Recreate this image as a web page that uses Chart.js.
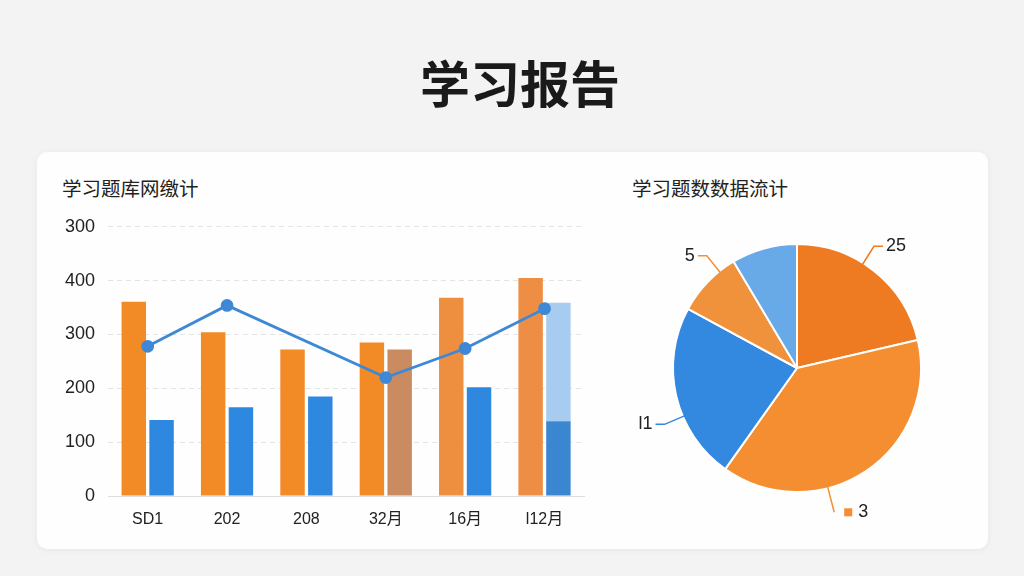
<!DOCTYPE html>
<html>
<head>
<meta charset="utf-8">
<script src="https://cdn.jsdelivr.net/npm/chart.js@4.4.1/dist/chart.umd.min.js"></script>
<style>
  html, body { margin: 0; padding: 0; }
  body { width: 1024px; height: 576px; background: #f3f3f3; position: relative; overflow: hidden;
         font-family: "Liberation Sans", "Noto Sans CJK SC", sans-serif; }
  #title { position: absolute; left: 8px; width: 1024px; top: 51px; text-align: center;
           font-family: "Noto Sans CJK SC", sans-serif; font-weight: 700; font-size: 50px; color: #1a1a1a; line-height: 60px; }
  #card { position: absolute; left: 37px; top: 152px; width: 951px; height: 397px; background: #fefefe;
          border-radius: 10px; box-shadow: 0 1px 6px rgba(0,0,0,0.06); }
  .sub { position: absolute; font-family: "Noto Sans CJK SC", sans-serif; font-size: 19.5px; color: #222; line-height: 24px; }
  #barWrap { position: absolute; left: 50px; top: 203px; width: 542px; height: 333px; }
  #pieWrap { position: absolute; left: 617px; top: 218px; width: 360px; height: 300px; }
</style>
</head>
<body>
<div id="title">学习报告</div>
<div id="card"></div>
<div class="sub" style="left:62px; top:176px;">学习题库网缴计</div>
<div class="sub" style="left:632px; top:176px;">学习题数数据流计</div>
<div id="barWrap"><canvas id="bar"></canvas></div>
<div id="pieWrap"><canvas id="pie"></canvas></div>
<script>
// ---- data ----
const categories = ['SD1', '202', '208', '32月', '16月', 'l12月'];
const yTickLabels = ['0', '100', '200', '300', '400', '300'];
const seriesOrange = [361, 304, 272, 285, 368, 405];
const seriesBlue = [141, 165, 185, 272, 202, 139];
const seriesBlueExtra = [0, 0, 0, 0, 0, 220];
const seriesLine = [278, 354, null, 220, 274, 348];

const pieValues = [25, 45, 27, 10, 10];
const pieLabels = ['25', '3', 'l1', '5', ''];

// ---- styles ----
const orangeColors = ['#f28a26', '#f28a26', '#f28a26', '#f28a26', '#ee8f3f', '#ee8e45'];
const blueColors = ['#2f88e0', '#2f88e0', '#2f88e0', '#c98b5f', '#2f88e0', '#3b86d0'];
const blueExtraColors = ['#a7ccf0', '#a7ccf0', '#a7ccf0', '#a7ccf0', '#a7ccf0', '#a7ccf0'];
const pieColors = ['#ee7a22', '#f48e31', '#3388e0', '#f0913c', '#68a9e8'];
const labelAnchor = [0.42, 0.64, 0.38, 0.74, 0.5];   // where along each slice its leader leaves
const labelMarker = [false, true, false, false, false];
const FONT = '"Liberation Sans", "Noto Sans CJK SC", sans-serif';

new Chart(document.getElementById('bar'), {
  data: {
    labels: categories,
    datasets: [
      { type: 'line', data: seriesLine, borderColor: '#3e88d6', backgroundColor: '#3e88d6',
        borderWidth: 2.8, pointRadius: 5, pointHoverRadius: 5, tension: 0, spanGaps: true, order: 0 },
      { type: 'bar', data: seriesOrange, backgroundColor: orangeColors, stack: 'a', order: 1 },
      { type: 'bar', data: seriesBlue, backgroundColor: blueColors, stack: 'b', order: 1 },
      { type: 'bar', data: seriesBlueExtra, backgroundColor: blueExtraColors, stack: 'b', order: 1 }
    ]
  },
  options: {
    responsive: true, maintainAspectRatio: false, animation: false,
    layout: { padding: 0 },
    datasets: { bar: { categoryPercentage: 0.7, barPercentage: 0.88 } },
    plugins: { legend: { display: false }, tooltip: { enabled: false } },
    scales: {
      x: {
        stacked: true,
        grid: { display: false, drawTicks: false },
        border: { display: true, color: '#dddddd', width: 1 },
        ticks: { color: '#222', font: { family: FONT, size: 16 }, padding: 14, maxRotation: 0 },
        afterFit: s => { s.height = 40; }
      },
      y: {
        stacked: true, min: 0, max: 500,
        grid: { drawTicks: false, color: c => c.tick && c.tick.value === 0 ? 'rgba(0,0,0,0)' : '#e4e4e4' },
        border: { display: false, dash: [5, 4] },
        ticks: { stepSize: 100, color: '#222', font: { family: FONT, size: 18 }, padding: 13,
                 callback: (v, i) => yTickLabels[i] },
        afterFit: s => { s.width = 58; }
      }
    }
  }
});

const leaderPlugin = {
  id: 'leaders',
  afterDatasetsDraw(chart) {
    const ctx = chart.ctx;
    const meta = chart.getDatasetMeta(0);
    meta.data.forEach((arc, i) => {
      const txt = pieLabels[i];
      if (!txt) return;
      const a = arc.startAngle + (arc.endAngle - arc.startAngle) * labelAnchor[i];
      const r = arc.outerRadius;
      const cx = arc.x, cy = arc.y;
      const ext = labelMarker[i] ? 25 : 20;
      const x1 = cx + Math.cos(a) * (r - 3), y1 = cy + Math.sin(a) * (r - 3);
      const x2 = cx + Math.cos(a) * (r + ext), y2 = cy + Math.sin(a) * (r + ext);
      const right = Math.cos(a) >= 0;
      const x3 = x2 + (right ? 9 : -9);
      ctx.save();
      ctx.strokeStyle = pieColors[i];
      ctx.lineWidth = 1.5;
      ctx.beginPath();
      ctx.moveTo(x1, y1); ctx.lineTo(x2, y2);
      if (!labelMarker[i]) ctx.lineTo(x3, y2);
      ctx.stroke();
      let tx = x3 + (right ? 3 : -3);
      if (labelMarker[i]) {
        ctx.fillStyle = pieColors[i];
        ctx.fillRect(x2 + 10, y2 - 4, 8, 8);
        tx = x2 + 24;
      }
      ctx.fillStyle = '#222';
      ctx.font = '18px ' + FONT;
      ctx.textBaseline = 'middle';
      ctx.textAlign = right ? 'left' : 'right';
      ctx.fillText(txt, tx, y2);
      ctx.restore();
    });
  }
};

new Chart(document.getElementById('pie'), {
  type: 'pie',
  data: {
    labels: pieLabels,
    datasets: [{ data: pieValues, backgroundColor: pieColors, borderColor: '#ffffff', borderWidth: 2 }]
  },
  options: {
    responsive: true, maintainAspectRatio: false, animation: false,
    layout: { padding: { top: 25, bottom: 25, left: 55, right: 55 } },
    plugins: { legend: { display: false }, tooltip: { enabled: false } }
  },
  plugins: [leaderPlugin]
});
</script>
</body>
</html>
